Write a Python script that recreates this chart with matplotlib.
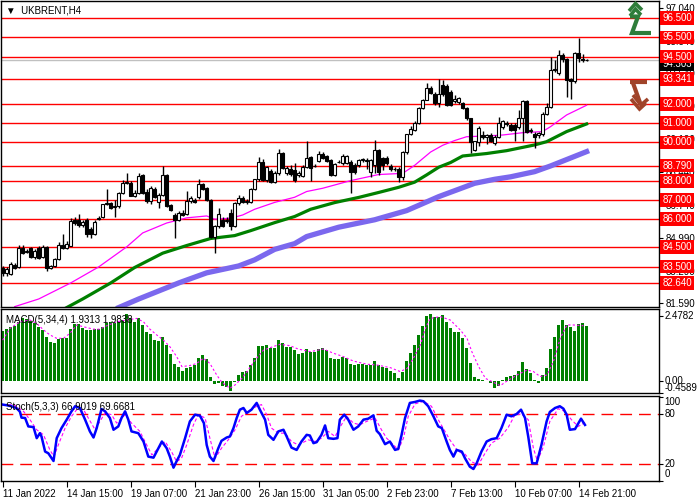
import numpy as np
import matplotlib as mpl
mpl.use('Agg')
import matplotlib.pyplot as plt
from matplotlib.lines import Line2D
import matplotlib.transforms as mtransforms

# ---- candles (H4 bars) ----
opens = [83.40, 83.15, 83.10, 83.60, 83.45, 84.45, 84.25, 84.45, 84.00, 84.45,
         84.00, 84.50, 83.40, 83.55, 83.90, 84.65, 84.45, 84.60, 85.95, 85.95,
         85.65, 85.95, 85.45, 85.20, 86.00, 86.10, 86.75, 86.85, 86.60, 86.65,
         87.33, 87.85, 87.90, 87.20, 87.35, 88.30, 87.40, 86.95, 87.55, 86.90,
         87.25, 88.30, 86.70, 86.20, 85.95, 86.30, 86.25, 86.95, 87.00, 87.13,
         87.81, 87.60, 86.99, 85.07, 85.60, 85.95, 85.90, 86.30, 85.63, 86.82,
         87.10, 86.90, 86.90, 87.55, 88.07, 89.00, 88.04, 88.53, 87.95, 88.39,
         89.43, 88.40, 88.60, 88.55, 88.30, 88.24, 88.73, 89.22, 88.75, 89.05,
         89.40, 89.30, 89.10, 88.30, 89.00, 88.90, 88.90, 89.00, 88.80, 88.80,
         89.10, 89.05, 88.47, 88.80, 89.60, 89.20, 89.20, 88.75, 88.60, 88.60,
         88.20, 89.50, 90.45, 90.65, 91.00, 91.80, 92.25, 92.83, 92.55, 92.05,
         93.00, 92.97, 92.66, 92.15, 92.10, 92.05, 91.79, 91.26, 89.60, 90.04,
         90.40, 90.30, 90.40, 89.95, 90.30, 90.80, 91.00, 90.90, 90.90, 90.80,
         91.30, 92.17, 90.60, 90.45, 90.40, 90.45, 91.50, 91.84, 93.80, 93.62,
         94.58, 94.35, 93.30, 93.20, 94.67, 94.35, 94.30]
highs = [83.55, 83.45, 83.75, 83.70, 84.65, 84.65, 84.40, 84.50, 84.40, 84.55,
         84.65, 84.55, 83.60, 83.95, 84.80, 85.20, 84.85, 86.05, 86.10, 86.25,
         85.95, 86.05, 85.55, 85.95, 86.15, 86.80, 87.55, 86.90, 87.00, 87.40,
         88.05, 88.40, 88.00, 87.50, 88.40, 88.35, 87.55, 87.70, 87.65, 87.35,
         88.75, 88.35, 86.75, 86.30, 86.40, 86.45, 87.48, 87.20, 87.10, 88.07,
         87.90, 87.65, 87.05, 85.65, 86.55, 86.10, 86.10, 86.50, 86.90, 87.25,
         87.20, 87.05, 87.60, 88.10, 89.23, 89.15, 88.75, 88.60, 88.50, 89.65,
         89.50, 88.75, 88.80, 88.90, 88.50, 88.80, 90.10, 89.30, 88.85, 89.55,
         89.50, 89.35, 89.15, 88.90, 89.10, 89.40, 89.35, 89.10, 88.90, 89.15,
         89.20, 89.20, 89.15, 90.12, 89.65, 89.25, 89.30, 88.85, 88.70, 88.70,
         89.55, 90.45, 90.85, 91.10, 91.85, 92.30, 93.10, 92.95, 92.65, 93.30,
         93.25, 93.05, 92.75, 92.50, 92.40, 92.10, 91.85, 91.30, 90.10, 90.85,
         90.60, 90.45, 90.50, 90.40, 91.35, 91.20, 91.10, 91.00, 91.00, 91.70,
         92.20, 92.25, 90.75, 90.55, 90.55, 91.60, 92.05, 94.50, 94.30, 94.85,
         94.70, 94.40, 93.40, 94.75, 95.45, 94.65, 94.35]
lows = [82.98, 83.00, 83.05, 83.35, 83.40, 84.15, 84.20, 83.95, 83.90, 83.90,
        83.95, 83.28, 83.35, 83.50, 83.85, 84.40, 84.40, 84.55, 85.70, 85.55,
        85.55, 85.03, 85.00, 85.15, 85.95, 86.05, 86.70, 86.50, 86.10, 86.55,
        87.30, 87.80, 87.20, 87.15, 87.30, 87.30, 86.85, 86.80, 87.10, 86.55,
        87.20, 86.60, 86.40, 84.98, 85.90, 86.15, 86.20, 86.85, 86.85, 87.05,
        87.50, 86.95, 85.02, 84.20, 85.50, 85.55, 85.80, 85.40, 85.55, 86.70,
        86.85, 86.75, 86.85, 87.50, 88.00, 88.00, 87.95, 87.85, 87.85, 88.30,
        88.60, 88.30, 88.25, 87.95, 88.20, 88.20, 88.65, 88.00, 88.70, 88.95,
        89.15, 88.95, 88.25, 88.25, 88.90, 88.80, 88.85, 87.35, 88.35, 88.70,
        89.00, 88.60, 88.20, 88.40, 88.30, 88.55, 88.80, 88.50, 88.50, 87.95,
        88.05, 89.40, 90.40, 90.60, 90.95, 91.75, 92.20, 92.55, 91.95, 91.85,
        92.45, 91.90, 91.90, 92.05, 92.00, 91.75, 91.20, 89.47, 89.55, 89.80,
        90.20, 89.90, 90.00, 89.85, 90.25, 90.70, 90.85, 90.60, 90.10, 90.70,
        90.05, 90.50, 90.50, 89.70, 90.25, 90.35, 91.45, 91.80, 93.70, 93.55,
        94.20, 92.40, 92.27, 93.10, 94.20, 94.20, 94.25]
closes = [83.15, 83.35, 83.65, 83.40, 84.45, 84.20, 84.30, 84.00, 84.30, 83.95,
          84.50, 83.40, 83.55, 83.90, 84.65, 84.45, 84.70, 85.90, 85.80, 85.65,
          85.85, 85.20, 85.20, 85.85, 86.05, 86.75, 86.85, 86.55, 86.65, 87.33,
          87.85, 87.95, 87.20, 87.35, 88.25, 87.35, 86.92, 87.60, 87.15, 87.25,
          88.30, 86.65, 86.47, 85.95, 86.33, 86.20, 86.94, 87.10, 86.90, 87.81,
          87.57, 86.99, 85.07, 85.60, 86.24, 85.63, 85.95, 85.60, 86.82, 87.08,
          86.90, 86.95, 87.55, 88.07, 89.00, 88.04, 88.70, 87.95, 88.39, 89.43,
          88.65, 88.65, 88.35, 88.05, 88.40, 88.74, 89.20, 88.64, 88.78, 89.38,
          89.20, 89.05, 88.30, 88.85, 88.95, 89.30, 89.30, 88.47, 88.47, 89.10,
          89.12, 89.10, 89.10, 89.60, 88.47, 88.80, 88.90, 88.60, 88.62, 88.20,
          89.50, 90.42, 90.70, 91.00, 91.80, 92.25, 92.83, 92.60, 92.05, 92.55,
          92.52, 91.96, 91.96, 92.30, 92.35, 91.79, 91.26, 90.04, 90.07, 90.74,
          90.30, 90.40, 90.05, 90.30, 91.00, 91.10, 90.95, 90.65, 90.65, 91.30,
          92.17, 90.57, 90.65, 90.30, 90.50, 91.50, 91.84, 93.80, 93.85, 94.58,
          94.35, 93.27, 93.20, 94.67, 94.40, 94.30, 94.30]

# ---- moving averages (bar index, value) ----
ma_fast_idx = [3, 9, 17, 24, 31, 35, 41, 46, 51, 53, 57, 60, 63, 68, 73, 76, 80, 87,
               94, 100, 103, 107, 110, 113, 116, 121, 125, 130, 135, 137, 141, 146]
ma_fast_val = [81.40, 81.80, 82.64, 83.48, 84.53, 85.26, 85.78, 86.05, 86.15, 85.98,
               86.03, 86.20, 86.50, 86.86, 87.13, 87.43, 87.60, 88.00, 88.32, 88.38,
               88.80, 89.50, 89.85, 90.10, 90.30, 90.34, 90.39, 90.51, 90.57, 90.83,
               91.44, 91.95]
ma_mid_idx = [16, 20, 27, 33, 40, 46, 52, 58, 62, 68, 73, 77, 83, 89, 94, 99,
              103, 106, 109, 112, 115, 121, 126, 133, 136, 141, 146]
ma_mid_val = [81.35, 81.80, 82.64, 83.45, 84.20, 84.60, 84.97, 85.12, 85.38,
              85.80, 86.12, 86.50, 86.85, 87.12, 87.38, 87.65, 87.92, 88.30, 88.70,
              88.95, 89.29, 89.42, 89.57, 89.87, 90.04, 90.57, 90.97]
ma_slow_idx = [29, 34, 44, 51, 59, 63, 68, 73, 76, 84, 93, 101, 109, 118, 123, 127,
               133, 137, 146]
ma_slow_val = [81.35, 81.80, 82.64, 83.17, 83.53, 83.85, 84.40, 84.70, 85.07, 85.56,
               85.95, 86.43, 87.16, 87.86, 88.07, 88.20, 88.47, 88.77, 89.52]

# ---- MACD(5,34,4) ----
macd_hist = [1.91, 1.98, 2.07, 2.11, 2.26, 2.42, 2.37, 2.29, 2.20, 2.07,
             1.95, 1.69, 1.48, 1.44, 1.60, 1.63, 1.63, 1.98, 2.18, 2.18,
             2.04, 1.95, 1.95, 1.98, 1.98, 2.07, 2.20, 2.24, 2.20, 2.26,
             2.33, 2.54, 2.39, 2.24, 2.39, 2.14, 1.86, 1.78, 1.56, 1.53,
             1.69, 1.37, 1.02, 0.64, 0.55, 0.39, 0.51, 0.55, 0.61, 0.87,
             0.99, 0.84, 0.17, -0.13, -0.09, -0.18, -0.22, -0.38, -0.03, 0.23,
             0.36, 0.38, 0.61, 0.89, 1.34, 1.34, 1.37, 1.27, 1.27, 1.56,
             1.44, 1.31, 1.31, 1.18, 1.02, 1.06, 1.22, 1.12, 1.09, 1.22,
             1.25, 1.18, 0.89, 0.84, 0.84, 0.93, 0.87, 0.64, 0.61, 0.64,
             0.64, 0.61, 0.61, 0.76, 0.61, 0.55, 0.48, 0.38, 0.29, 0.10,
             0.36, 0.76, 1.06, 1.37, 1.76, 2.11, 2.49, 2.56, 2.43, 2.46,
             2.52, 2.26, 2.04, 1.88, 1.86, 1.63, 1.27, 0.67, 0.17, 0.08,
             0.05, 0.01, -0.09, -0.28, -0.18, 0.02, 0.17, 0.20, 0.23, 0.38,
             0.74, 0.46, 0.31, 0.03, -0.08, 0.23, 0.51, 1.22, 1.69, 2.14,
             2.33, 2.14, 2.07, 1.92, 2.16, 2.21, 2.11]
macd_sig_idx = [0, 1.8, 4.3, 6.8, 8.5, 10.2, 11.8, 13.5, 15.2, 16.8, 18.5, 20.2, 22.7,
                24.3, 26.0, 28.5, 31.0, 33.5, 35.2, 36.8, 38.5, 40.2, 41.8, 43.5, 44.8,
                46.8, 48.5, 50.2, 51.8, 53.5, 54.8, 56.8, 58.1, 59.8, 61.4, 63.1, 65.2,
                66.8, 69.3, 71.8, 73.9, 76.9, 80.2, 82.7, 85.2, 87.7, 91.1, 93.6, 96.9,
                99.4, 101.1, 102.7, 104.4, 105.7, 106.9, 109.4, 111.9, 114.4, 116.1,
                117.3, 119.0, 120.7, 122.7, 124.4, 126.1, 128.6, 131.1, 132.7, 134.4,
                136.1, 137.7, 139.4, 141.1, 142.7, 145.2]
macd_sig_val = [1.56, 2.01, 2.26, 2.33, 2.20, 1.95, 1.76, 1.63, 1.63, 1.82, 2.14, 2.07,
                1.98, 1.98, 2.11, 2.26, 2.33, 2.39, 2.26, 1.98, 1.76, 1.56, 1.31, 0.93,
                0.55, 0.59, 0.67, 0.87, 0.67, 0.23, -0.05, -0.28, -0.15, 0.10, 0.42,
                0.80, 1.18, 1.27, 1.40, 1.35, 1.22, 1.12, 1.22, 1.06, 0.93, 0.76, 0.64,
                0.61, 0.51, 0.36, 0.48, 0.87, 1.37, 2.01, 2.39, 2.46, 2.33, 1.95, 1.63,
                1.12, 0.55, 0.10, -0.05, -0.18, 0.00, 0.23, 0.42, 0.36, 0.17, 0.23,
                0.74, 1.63, 2.14, 2.14, 2.11]

# ---- Stochastic(5,3,3) ----
stoch_idx = [0, 1.0, 2.2, 3.5, 4.3, 4.7, 5.6, 6.4, 7.7, 8.5, 9.3, 9.7, 10.6, 11.4, 12.7,
             13.5, 14.7, 16.0, 17.2, 18.1, 19.3, 20.6, 21.8, 22.7, 23.5, 24.7, 25.6,
             26.8, 27.7, 28.9, 29.7, 30.6, 31.4, 32.2, 33.9, 35.2, 36.4, 37.7, 38.5,
             39.8, 41.0, 41.8, 42.7, 43.5, 44.3, 45.6, 46.8, 48.1, 49.3, 50.3, 51.0,
             51.8, 52.7, 53.9, 54.7, 56.0, 56.8, 57.7, 58.5, 59.3, 60.2, 61.0, 62.2,
             63.5, 64.3, 65.6, 66.4, 67.7, 68.9, 70.2, 71.0, 72.2, 73.5, 74.7, 76.0,
             76.8, 77.7, 78.5, 79.7, 80.6, 81.4, 82.7, 83.7, 84.3, 85.4, 86.4, 87.7,
             88.9, 90.2, 91.4, 92.7, 93.5, 94.3, 95.6, 96.8, 98.1, 98.9, 99.7, 100.6,
             101.8, 103.1, 104.3, 105.2, 106.4, 107.7, 108.9, 109.8, 111.0, 111.8,
             112.7, 113.5, 114.8, 115.6, 116.8, 117.7, 118.5, 119.7, 121.0, 122.2,
             123.5, 124.7, 126.0, 127.2, 128.5, 129.6, 130.6, 131.4, 132.4, 133.5,
             134.7, 136.0, 136.8, 138.1, 139.3, 140.2, 141.0, 141.8, 143.1, 144.6, 145.6]
stoch_main = [91.3, 90.5, 89.3, 86.8, 82.8, 75.6, 75.2, 65.1, 64.3, 51.0, 57.0, 53.0,
              34.9, 32.9, 23.6, 51.0, 63.1, 73.2, 83.2, 89.3, 87.2, 73.2, 59.1, 51.8,
              63.1, 86.0, 83.2, 75.2, 61.1, 65.1, 75.2, 83.2, 73.2, 59.1, 57.0, 47.0,
              28.9, 27.6, 34.9, 47.0, 38.9, 28.9, 15.6, 23.6, 30.9, 51.0, 71.1, 79.2,
              78.0, 69.1, 42.9, 28.9, 23.6, 38.9, 47.8, 51.8, 53.0, 63.1, 75.2, 85.2,
              87.2, 81.2, 85.2, 93.3, 85.2, 73.2, 55.0, 49.0, 59.1, 61.1, 53.0, 39.7,
              36.9, 47.0, 55.0, 54.2, 45.0, 46.2, 55.0, 66.3, 51.0, 50.2, 51.0, 73.2,
              79.2, 73.2, 61.1, 65.1, 73.2, 74.4, 78.4, 59.9, 55.8, 43.8, 47.0, 36.9,
              38.1, 54.2, 75.2, 93.3, 94.5, 96.1, 95.3, 89.3, 77.2, 65.1, 63.1, 47.0,
              36.9, 28.9, 36.9, 34.9, 26.8, 16.8, 14.0, 20.8, 34.9, 47.0, 49.8, 51.0,
              63.1, 79.2, 77.2, 80.0, 85.2, 75.2, 53.0, 20.8, 20.8, 42.9, 71.1, 82.4,
              87.2, 89.3, 86.4, 79.2, 61.1, 61.9, 74.4, 66.9]
stoch_sig_idx = [0, 2.7, 5.2, 6.8, 8.5, 10.2, 11.8, 12.8, 13.9, 15.6, 17.2, 18.5, 20.2,
                 21.4, 23.1, 24.3, 25.6, 27.2, 28.5, 30.6, 32.2, 34.3, 36.0, 37.3, 38.9,
                 40.6, 42.2, 43.5, 44.7, 46.0, 47.7, 48.9, 50.6, 51.8, 53.1, 54.7, 56.4,
                 58.1, 59.7, 61.4, 63.5, 64.7, 66.0, 67.2, 68.9, 70.6, 72.2, 73.9, 76.4,
                 78.1, 79.7, 81.4, 83.1, 84.7, 86.0, 87.7, 89.3, 91.0, 93.1, 94.7, 96.0,
                 97.7, 98.9, 100.2, 101.4, 103.1, 105.2, 107.2, 108.9, 110.6, 111.8,
                 113.9, 115.6, 117.2, 118.9, 120.6, 122.2, 124.3, 126.4, 128.1, 129.7,
                 131.4, 132.7, 133.7, 135.2, 136.8, 138.9, 140.6, 142.2, 143.9, 145.6]
stoch_sig = [90.5, 91.3, 83.2, 73.2, 61.1, 55.0, 36.9, 28.9, 42.9, 63.1, 77.2, 85.2,
             85.2, 75.2, 61.1, 71.1, 81.2, 79.2, 69.1, 79.2, 69.1, 59.1, 42.9, 30.9,
             38.9, 47.0, 34.9, 22.8, 26.8, 42.9, 67.1, 79.2, 75.2, 51.0, 26.8, 38.9,
             49.0, 61.1, 77.2, 83.2, 89.3, 91.3, 79.2, 63.1, 57.0, 57.0, 47.0, 42.9,
             49.0, 47.0, 51.0, 59.1, 53.0, 67.1, 77.2, 69.1, 67.1, 71.1, 75.2, 61.1,
             51.0, 43.0, 36.9, 51.0, 77.2, 92.1, 95.3, 89.3, 73.2, 59.1, 49.0, 34.9,
             31.7, 22.8, 18.8, 32.9, 45.0, 51.0, 63.9, 79.2, 80.0, 73.2, 38.9, 23.6,
             40.9, 71.1, 86.4, 83.2, 73.2, 65.1, 69.7]

# ---- levels and labels ----
levels = [96.5, 95.5, 94.5, 93.341, 92.0, 91.0, 90.0, 88.79, 88.0, 87.0, 86.0,
          84.5, 83.5, 82.64]
level_labels = ['96.500', '95.500', '94.500', '93.341', '92.000', '91.000', '90.000',
                '88.790', '88.000', '87.000', '86.000', '84.500', '83.500', '82.640']
price_ticks = [97.04, 95.34, 93.64, 91.89, 90.19, 88.44, 86.74, 84.99, 83.29, 81.59]
price_tick_labels = ['97.040', '95.340', '93.640', '91.890', '90.190', '88.440',
                     '86.740', '84.990', '83.290', '81.590']
bid = 94.30
bid_label = '94.303'
date_pos = [0, 16, 32, 48, 64, 80, 96, 112, 128, 144]
date_labels = ['11 Jan 2022', '14 Jan 15:00', '19 Jan 07:00', '21 Jan 23:00',
               '26 Jan 15:00', '31 Jan 05:00', '2 Feb 23:00', '7 Feb 13:00',
               '10 Feb 07:00', '14 Feb 21:00']

FS = 7
plt.rcParams['font.family'] = ['Liberation Sans', 'DejaVu Sans']
fig = plt.figure(figsize=(7, 5), dpi=100)
ax = fig.add_axes([1/700, 193/500, 658/700, 306/500])
axm = fig.add_axes([1/700, 107/500, 658/700, 84/500])
axs = fig.add_axes([1/700, 19/500, 658/700, 85/500])

n = len(closes)
x = np.arange(n)
xlim = (-0.43, 164.1)

# main price panel
for lv in levels:
    ax.axhline(lv, color='#ff0000', lw=1, zorder=1)
ax.axhline(bid, color='#c0c0c0', lw=1, zorder=1)
ax.plot(ma_fast_idx, ma_fast_val, color='#ff00ff', lw=0.9, zorder=2)
ax.plot(ma_mid_idx, ma_mid_val, color='#008000', lw=2.3, zorder=2)
ax.plot(ma_slow_idx, ma_slow_val, color='#7b68ee', lw=3.8, zorder=2)
o = np.array(opens); c = np.array(closes)
ax.vlines(x, lows, highs, color='black', lw=1, zorder=3)
body = np.where(np.abs(c - o) < 0.03, 0.03, c - o)
ax.bar(x, body, bottom=o, width=0.75, color=np.where(c >= o, 'white', 'black'),
       edgecolor='black', lw=0.8, zorder=4)
ax.set_xlim(*xlim)
ax.set_ylim(81.38, 97.41)
ax.yaxis.tick_right()
ax.set_yticks(price_ticks)
ax.set_yticklabels(price_tick_labels, fontsize=FS)
ax.set_xticks([])
ax.tick_params(axis='y', direction='out', length=3, pad=2)
trans = mtransforms.blended_transform_factory(ax.transAxes, ax.transData)
for lv, lab in zip(levels, level_labels):
    ax.text(1.005, lv, lab, transform=trans, fontsize=FS, color='white', ha='left',
            va='center', clip_on=False, zorder=6,
            bbox=dict(boxstyle='square,pad=0.2', fc='#ff0000', ec='none'))
ax.text(1.005, bid - 0.2, bid_label, transform=trans, fontsize=FS, color='white',
        ha='left', va='center', clip_on=False, zorder=5,
        bbox=dict(boxstyle='square,pad=0.2', fc='black', ec='none'))
ax.text(0.007, 0.985, '\u25bc  UKBRENT,H4', transform=ax.transAxes, fontsize=FS,
        ha='left', va='top', color='black')

# MACD panel
axm.bar(x, macd_hist, width=0.75, color='#008000', zorder=2)
axm.plot(macd_sig_idx, macd_sig_val, color='#ff00ff', lw=0.8, ls=(0, (2, 2)), zorder=3)
axm.set_xlim(*xlim)
axm.set_ylim(-0.458, 2.75)
axm.set_xticks([])
axm.set_yticks([2.4782, 0.0, -0.4589])
axm.set_yticklabels([])
axm.yaxis.tick_right()
axm.tick_params(axis='y', direction='out', length=3)
tm = mtransforms.blended_transform_factory(axm.transAxes, axm.transData)
axm.text(1.008, 2.4782, '2.4782', transform=tm, fontsize=FS, va='center', clip_on=False)
axm.text(1.008, 0.0, '0.00', transform=tm, fontsize=FS, va='center', clip_on=False)
axm.text(1.008, -0.4589, '-0.4589', transform=tm, fontsize=FS, va='bottom', clip_on=False)
axm.text(0.007, 0.93, 'MACD(5,34,4) 1.9313 1.9838', transform=axm.transAxes,
         fontsize=FS, va='top', ha='left')

# Stochastic panel
axs.axhline(80, color='#ff0000', lw=1, ls=(0, (8.5, 5)))
axs.axhline(20, color='#ff0000', lw=1, ls=(0, (8.5, 5)))
axs.plot(stoch_sig_idx, stoch_sig, color='#ff00ff', lw=0.8, ls=(0, (3, 2)))
axs.plot(stoch_idx, stoch_main, color='#0000ff', lw=1.8)
axs.set_xlim(*xlim)
axs.set_ylim(-0.4, 101.6)
axs.set_yticks([100, 80, 20, 0])
axs.set_yticklabels([])
axs.yaxis.tick_right()
axs.tick_params(axis='y', direction='out', length=3)
ts = mtransforms.blended_transform_factory(axs.transAxes, axs.transData)
axs.text(1.008, 100, '100', transform=ts, fontsize=FS, va='top', clip_on=False)
axs.text(1.008, 80, '80', transform=ts, fontsize=FS, va='center', clip_on=False)
axs.text(1.008, 20, '20', transform=ts, fontsize=FS, va='center', clip_on=False)
axs.text(1.008, 8, '0', transform=ts, fontsize=FS, va='center', clip_on=False)
axs.text(0.007, 0.93, 'Stoch(5,3,3) 66.9019 69.6681', transform=axs.transAxes,
         fontsize=FS, va='top', ha='left')
axs.set_xticks(date_pos)
axs.set_xticklabels(date_labels, fontsize=FS, ha='left')
axs.tick_params(axis='x', direction='out', length=4, pad=2)

for a in (ax, axm, axs):
    for s in a.spines.values():
        s.set_linewidth(1)
        s.set_color('black')

# signal icons at the right of the price panel (figure pixel coordinates)
def px_line(xs, ys, color, lw):
    fig.add_artist(Line2D([v / 700 for v in xs], [1 - v / 500 for v in ys],
                          transform=fig.transFigure, color=color, lw=lw,
                          solid_capstyle='butt', solid_joinstyle='miter'))

green = '#2e7d3a'
px_line([629, 635.5, 642], [11, 3.5, 10], green, 2.6)
px_line([630, 635.5, 641], [16, 9, 15], green, 2.6)
px_line([630, 638, 632, 651], [16.5, 16.5, 33, 33], green, 3.0)
brown = '#a0442a'
px_line([630, 647], [82, 82], brown, 3.0)
px_line([633, 640.5], [83, 104], brown, 3.0)
px_line([631, 639.5, 646], [99, 109, 103], brown, 2.6)
px_line([633, 641, 648], [95, 105, 99], brown, 2.6)

fig.savefig('out.png', dpi=100)
